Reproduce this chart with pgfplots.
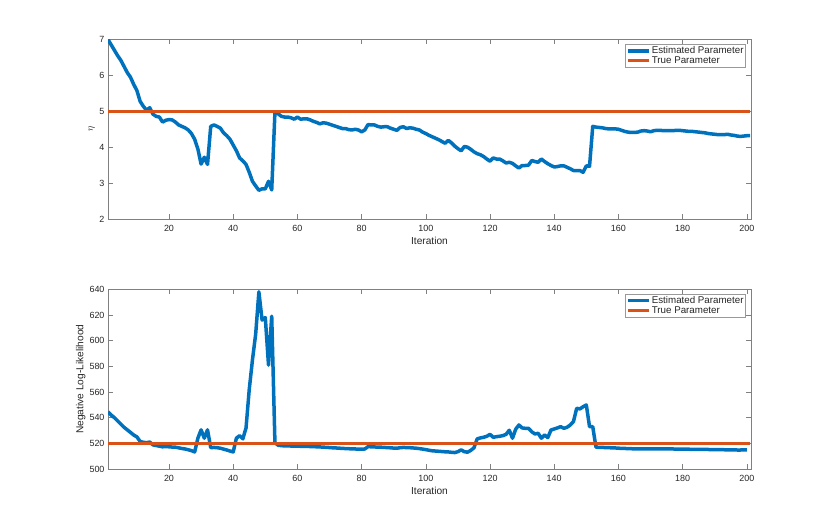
\documentclass[border=0pt]{standalone}
\usepackage{fontspec}
\setmainfont{Liberation Sans}
\usepackage{pgfplots}
\usepackage{pgfplotstable}
\pgfplotsset{compat=1.18}
\definecolor{mblue}{rgb}{0,0.447,0.741}
\definecolor{morange}{rgb}{0.85,0.325,0.098}
\definecolor{axgray}{rgb}{0.5,0.5,0.5}
\definecolor{txt}{rgb}{0.15,0.15,0.15}

\pgfplotstableread{
i v
1 7.00
2 6.85
3 6.70
4 6.55
5 6.42
6 6.25
7 6.08
8 5.95
9 5.75
10 5.58
11 5.28
12 5.14
13 5.03
14 5.10
15 4.92
16 4.86
17 4.84
18 4.70
19 4.75
20 4.77
21 4.76
22 4.70
23 4.62
24 4.58
25 4.54
26 4.48
27 4.38
28 4.22
29 3.95
30 3.53
31 3.72
32 3.52
33 4.58
34 4.62
35 4.58
36 4.53
37 4.40
38 4.32
39 4.22
40 4.06
41 3.90
42 3.70
43 3.62
44 3.52
45 3.30
46 3.05
47 2.92
48 2.80
49 2.84
50 2.84
51 3.05
52 2.81
53 4.97
54 4.93
55 4.86
56 4.84
57 4.84
58 4.82
59 4.78
60 4.84
61 4.78
62 4.79
63 4.79
64 4.76
65 4.72
66 4.69
67 4.65
68 4.68
69 4.67
70 4.64
71 4.61
72 4.58
73 4.55
74 4.52
75 4.52
76 4.49
77 4.48
78 4.50
79 4.48
80 4.43
81 4.48
82 4.63
83 4.62
84 4.62
85 4.58
86 4.56
87 4.57
88 4.57
89 4.53
90 4.50
91 4.47
92 4.55
93 4.57
94 4.52
95 4.54
96 4.53
97 4.50
98 4.48
99 4.42
100 4.38
101 4.33
102 4.29
103 4.25
104 4.21
105 4.16
106 4.11
107 4.19
108 4.12
109 4.03
110 3.96
111 3.90
112 4.02
113 4.00
114 3.94
115 3.87
116 3.82
117 3.79
118 3.74
119 3.67
120 3.61
121 3.70
122 3.67
123 3.67
124 3.62
125 3.56
126 3.58
127 3.55
128 3.48
129 3.42
130 3.49
131 3.49
132 3.50
133 3.63
134 3.60
135 3.58
136 3.67
137 3.60
138 3.54
139 3.49
140 3.45
141 3.46
142 3.48
143 3.48
144 3.44
145 3.40
146 3.35
147 3.35
148 3.35
149 3.30
150 3.48
151 3.47
152 4.58
153 4.56
154 4.55
155 4.54
156 4.52
157 4.51
158 4.51
159 4.51
160 4.50
161 4.47
162 4.44
163 4.42
164 4.41
165 4.41
166 4.42
167 4.45
168 4.46
169 4.45
170 4.43
171 4.46
172 4.47
173 4.47
174 4.46
175 4.46
176 4.46
177 4.46
178 4.47
179 4.47
180 4.46
181 4.45
182 4.44
183 4.44
184 4.43
185 4.42
186 4.41
187 4.40
188 4.38
189 4.37
190 4.36
191 4.35
192 4.35
193 4.35
194 4.36
195 4.34
196 4.33
197 4.31
198 4.30
199 4.31
200 4.32
201 4.32
}\etatable

\pgfplotstableread{
i v
1 544.5
2 542
3 540
4 537.5
5 535
6 532.5
7 530.5
8 528.5
9 526.5
10 525
11 521.5
12 520.8
13 520.5
14 521
15 518.8
16 518.3
17 517.8
18 517.3
19 517.5
20 517.3
21 517.1
22 517
23 516.5
24 516
25 515.6
26 515
27 514.3
28 513.3
29 524
30 530.5
31 524
32 530.5
33 516.6
34 516.8
35 516.6
36 516.2
37 515.5
38 514.8
39 514
40 513.3
41 524
42 526
43 523.5
44 532
45 562
46 585
47 605
48 638
49 616
50 618
51 581
52 619
53 520.5
54 518.5
55 518.2
56 518
57 518
58 517.9
59 517.8
60 517.8
61 517.7
62 517.6
63 517.6
64 517.5
65 517.4
66 517.3
67 517.2
68 517.0
69 516.9
70 516.7
71 516.5
72 516.4
73 516.2
74 516.1
75 515.9
76 515.8
77 515.7
78 515.6
79 515.5
80 515.4
81 515.6
82 517.4
83 517.3
84 517.2
85 517.0
86 517.0
87 516.8
88 516.7
89 516.5
90 516.3
91 516.2
92 516.6
93 516.8
94 516.7
95 516.6
96 516.4
97 516.2
98 515.9
99 515.5
100 515.1
101 514.6
102 514.2
103 514.0
104 513.8
105 513.6
106 513.4
107 513.3
108 513.0
109 512.8
110 513.5
111 514.9
112 513.5
113 513.1
114 514.5
115 516.5
116 523.5
117 524.2
118 524.7
119 525.5
120 527
121 524.7
122 525.2
123 525.5
124 526
125 527
126 530.2
127 524
128 531
129 534.3
130 532
131 531.7
132 531.7
133 529
134 527.3
135 527.8
136 524
137 526.5
138 524.5
139 530.4
140 531.2
141 532
142 533
143 531.7
144 532.5
145 534.3
146 537
147 547.3
148 546.8
149 548.5
150 549.9
151 533
152 533
153 517.0
154 516.9
155 516.8
156 516.7
157 516.6
158 516.5
159 516.4
160 516.2
161 516.1
162 516.0
163 515.9
164 515.8
165 515.7
166 515.6
167 515.6
168 515.7
169 515.7
170 515.6
171 515.6
172 515.7
173 515.7
174 515.6
175 515.6
176 515.6
177 515.6
178 515.5
179 515.5
180 515.5
181 515.4
182 515.4
183 515.3
184 515.3
185 515.3
186 515.2
187 515.2
188 515.2
189 515.1
190 515.1
191 515.1
192 515.0
193 515.0
194 514.9
195 514.9
196 514.9
197 514.8
198 514.8
199 514.9
200 514.9
}\nlltable

\pgfplotsset{
 mstyle/.style={
   scale only axis, width=643bp, height=179.5bp,
   xmin=1, xmax=201.3,
   xtick={20,40,...,200},
   tick align=inside, major tick length=5bp,
   axis line style={axgray, line width=0.5bp},
   every tick/.style={axgray, line width=0.5bp},
   ticklabel style={font=\fontsize{9}{10}\selectfont, text=txt},
   xticklabel style={yshift=-3bp},
   /pgf/number format/assume math mode=true,
   label style={font=\fontsize{10.2}{12}\selectfont, text=txt},
   xlabel=Iteration,
   legend style={at={(rel axis cs:1,1)}, anchor=north east, xshift=-5.8bp, yshift=-4.3bp,
     draw=axgray!80, line width=0.5bp, font=\fontsize{9.8}{10}\selectfont, text=txt,
     inner sep=0.6bp, row sep=-2.6bp, cells={anchor=west},
     nodes={inner xsep=0.8bp}},
   legend image code/.code={\draw[##1, line width=3.5bp] (-1bp,0bp) -- (20.5bp,0bp);},
 }
}

\begin{document}
\begin{tikzpicture}
\useasboundingbox (0,0) rectangle (830bp,527bp);
\begin{axis}[mstyle, at={(108bp,308bp)}, anchor=south west,
  ymin=2, ymax=7, ytick={2,3,4,5,6,7},
  ylabel={$\eta$},
  xlabel style={at={(axis description cs:0.5,-0.1227)}, anchor=center},
  ylabel style={at={(axis description cs:-0.0254,0.5)}, anchor=center}]
\addplot[mblue, line width=3.5bp, line join=round] table[x=i,y=v] {\etatable};
\addlegendentry{Estimated Parameter}
\addplot[morange, line width=3.5bp] coordinates {(1,5) (201,5)};
\addlegendentry{True Parameter}
\end{axis}
\begin{axis}[mstyle, at={(108bp,58bp)}, anchor=south west, height=179.7bp,
  ymin=500, ymax=640, ytick={500,520,...,640},
  ylabel={Negative Log-Likelihood},
  xlabel style={at={(axis description cs:0.5,-0.1208)}, anchor=center},
  ylabel style={at={(axis description cs:-0.0425,0.5)}, anchor=center}]
\addplot[mblue, line width=3.5bp, line join=round] table[x=i,y=v] {\nlltable};
\addlegendentry{Estimated Parameter}
\addplot[morange, line width=3.5bp] coordinates {(1,519.8) (201,519.8)};
\addlegendentry{True Parameter}
\end{axis}
\end{tikzpicture}
\end{document}
